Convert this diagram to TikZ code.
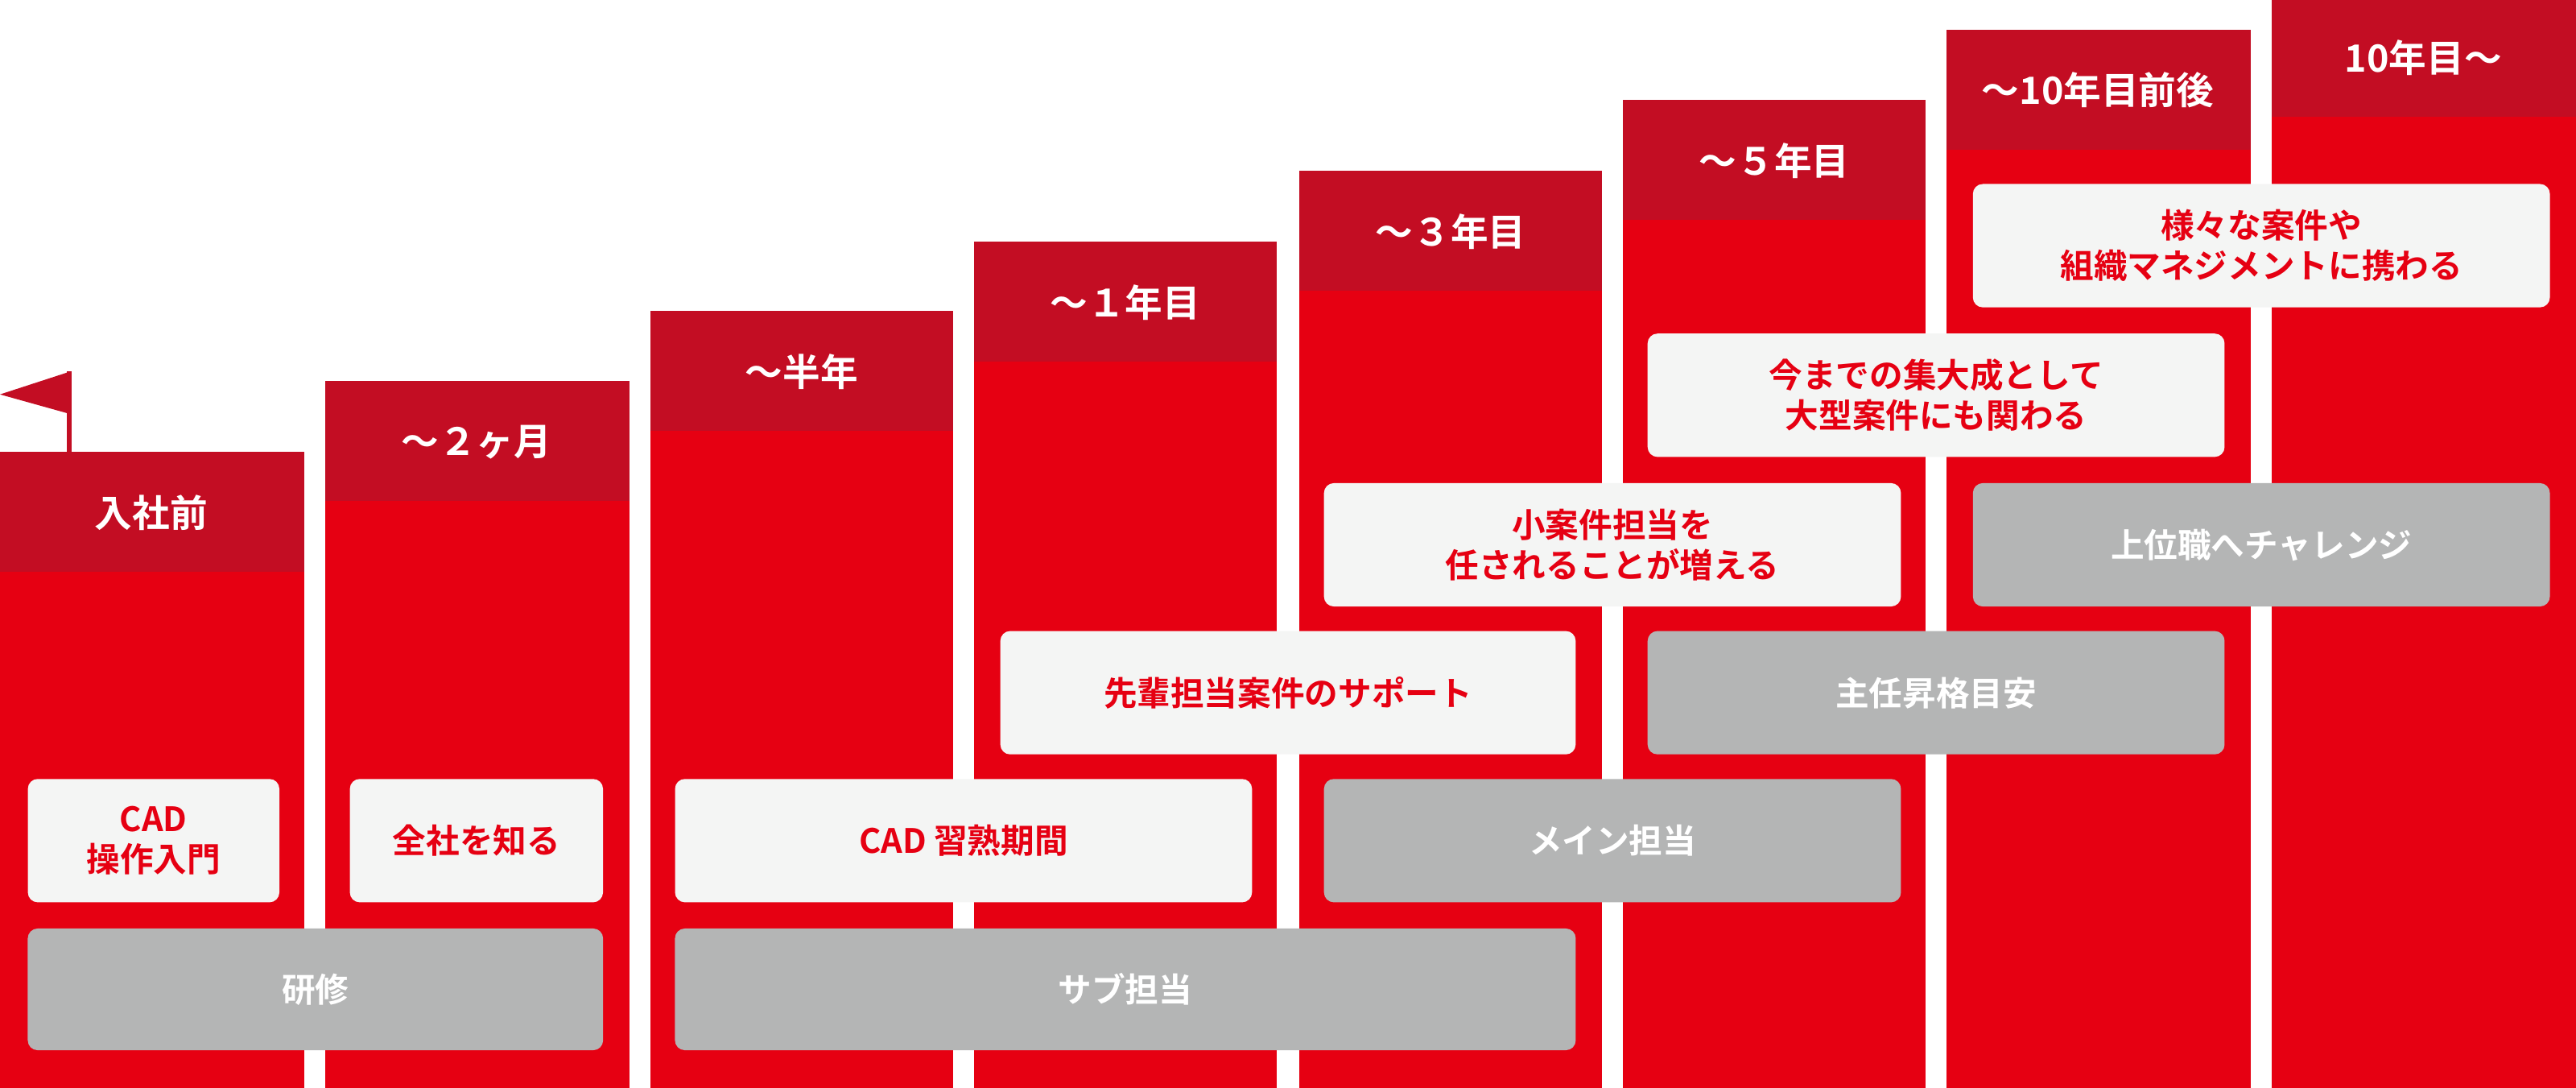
\documentclass[tikz,border=0pt]{standalone}
\usepackage{fontspec}
\setmainfont{Noto Sans CJK JP}[BoldFont={* Bold}]
\definecolor{hdr}{HTML}{C30D23}
\definecolor{bod}{HTML}{E60012}
\definecolor{lite}{HTML}{F4F5F4}
\definecolor{gry}{HTML}{B4B5B5}
\tikzset{
 wbox/.style={fill=lite,rounded corners=0.6mm,text=bod,font=\fontsize{5.8}{7}\selectfont\bfseries,align=center,inner sep=0},
 gbox/.style={fill=gry,rounded corners=0.6mm,text=white,font=\fontsize{5.8}{7}\selectfont\bfseries,align=center,inner sep=0},
 htxt/.style={text=white,font=\fontsize{6.5}{8}\selectfont\bfseries}
}
\newcommand{\col}[4]{% x0 x1 top name text
 \fill[bod] (#1,#3) rectangle (#2,662);
 \fill[hdr] (#1,#3) rectangle (#2,#3+73);
}
\begin{document}
\begin{tikzpicture}[x=0.01cm,y=-0.01cm]
\useasboundingbox (0,0) rectangle (1568,662);
\col{0}{185}{275}{}
\col{198}{383}{232}{}
\col{396}{580}{189}{}
\col{593}{777}{147}{}
\col{791}{975}{104}{}
\col{988}{1172}{61}{}
\col{1185}{1370}{18}{}
\fill[hdr] (1383,0) rectangle (1568,71);
\fill[bod] (1383,71) rectangle (1568,662);
\node[htxt] (h1) at (92,312) {入社前};
\node[htxt] (h2) at (290,269) {～２ヶ月};
\node[htxt] (h3) at (488,226) {～半年};
\node[htxt] (h4) at (685,184) {～１年目};
\node[htxt] (h5) at (883,141) {～３年目};
\node[htxt] (h6) at (1080,98) {～５年目};
\node[htxt] (h7) at (1277,55) {～10年目前後};
\node[htxt] (h8) at (1475,35) {10年目～};
% flag
\draw[hdr,line width=0.3mm] (42,226) -- (42,275);
\fill[hdr] (43,226) -- (43,252) -- (0,240) -- cycle;
% boxes
\node[wbox,minimum width=1.53cm,minimum height=0.75cm] (b1) at (93.5,511.5) {CAD\\操作入門};
\node[wbox,minimum width=1.54cm,minimum height=0.75cm] (b2) at (290,511.5) {全社を知る};
\node[gbox,minimum width=3.50cm,minimum height=0.74cm] (b3) at (192,602) {研修};
\node[wbox,minimum width=3.51cm,minimum height=0.75cm] (b4) at (586.5,511.5) {CAD 習熟期間};
\node[gbox,minimum width=5.48cm,minimum height=0.74cm] (b5) at (685,602) {サブ担当};
\node[wbox,minimum width=3.50cm,minimum height=0.75cm] (b6) at (784,421.5) {先輩担当案件のサポート};
\node[gbox,minimum width=3.51cm,minimum height=0.75cm] (b7) at (981.5,511.5) {メイン担当};
\node[wbox,minimum width=3.51cm,minimum height=0.75cm] (b8) at (981.5,331.5) {小案件担当を\\任されることが増える};
\node[gbox,minimum width=3.51cm,minimum height=0.75cm] (b9) at (1178.5,421.5) {主任昇格目安};
\node[wbox,minimum width=3.51cm,minimum height=0.75cm] (b10) at (1178.5,240.5) {今までの集大成として\\大型案件にも関わる};
\node[gbox,minimum width=3.51cm,minimum height=0.75cm] (b11) at (1376.5,331.5) {上位職へチャレンジ};
\node[wbox,minimum width=3.51cm,minimum height=0.75cm] (b12) at (1376.5,149.5) {様々な案件や\\組織マネジメントに携わる};
\end{tikzpicture}
\end{document}
